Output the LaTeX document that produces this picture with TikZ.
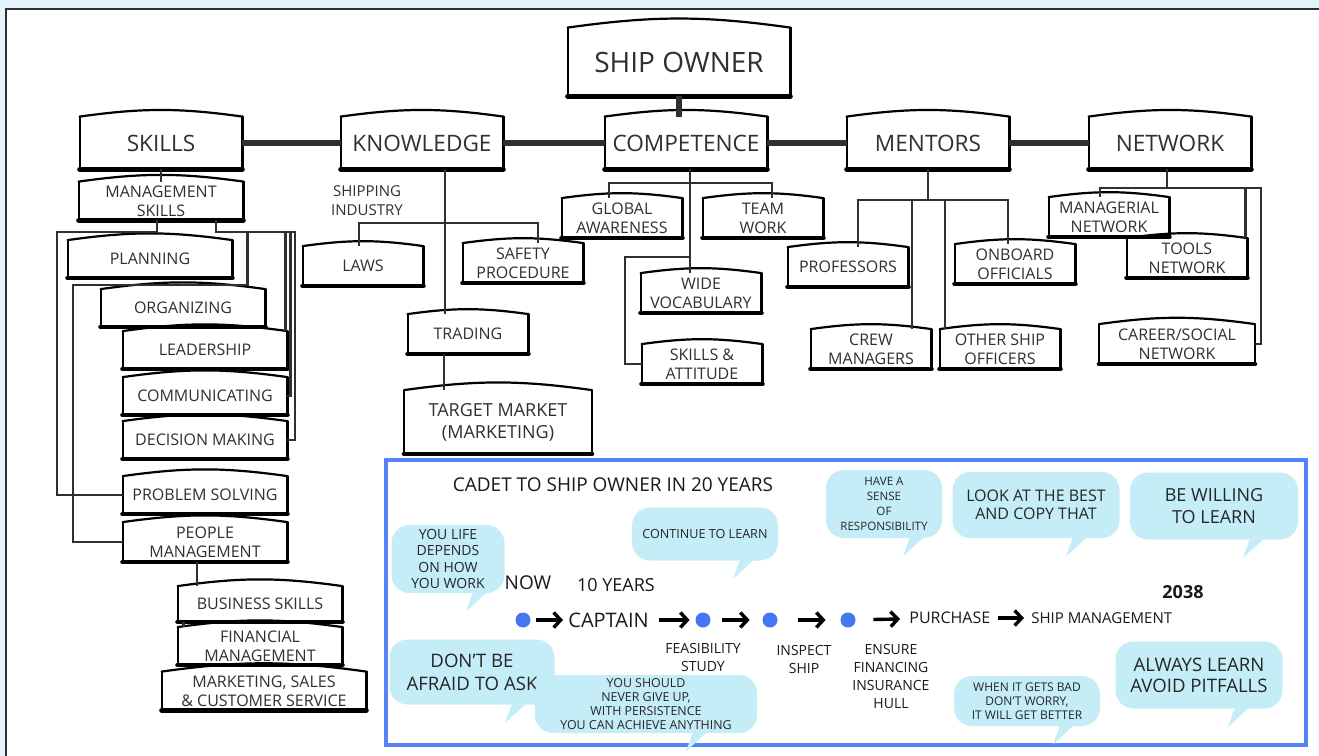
\documentclass[tikz,border=0pt]{standalone}
\usepackage{fontspec}
\setmainfont{Open Sans}
\usetikzlibrary{arrows.meta}

\definecolor{pagetint}{RGB}{228,243,251}
\definecolor{inkgray}{RGB}{48,48,48}
\definecolor{panelblue}{RGB}{86,130,250}
\definecolor{bubblecyan}{RGB}{196,237,247}
\definecolor{dotblue}{RGB}{70,118,242}

\begin{document}
\begin{tikzpicture}[x=0.5pt, y=-0.5pt,
    boxline/.style = {draw=black, line width=1.1pt, line cap=round},
    sketchbox/.style = {rectangle, fill=white, text=inkgray, inner sep=1pt,
                        align=center, font=\fontsize{8}{9.5}\selectfont,
                        minimum width=60pt, minimum height=19.5pt,
                        append after command={\pgfextra{\let\thisbox\tikzlastnode}
                          (\thisbox.south west) edge [boxline] (\thisbox.north west)
                          (\thisbox.north west) edge [boxline, bend left=8] (\thisbox.north east)
                          (\thisbox.north east) edge [boxline] (\thisbox.south east)
                          (\thisbox.south west) edge [boxline, line width=2.4pt] (\thisbox.south east)}},
    headbox/.style = {sketchbox, minimum width=111pt, minimum height=34pt,
                      font=\fontsize{14}{16}\selectfont},
    mainbox/.style = {sketchbox, minimum width=81pt, minimum height=26pt,
                      font=\fontsize{11.3}{13}\selectfont},
    skillbox/.style = {sketchbox, minimum width=82pt, minimum height=18.5pt},
    treeline/.style = {draw=inkgray, line width=1.3pt},
    trunkline/.style = {draw=inkgray, line width=3pt},
    bubble/.style = {rectangle, fill=bubblecyan, rounded corners=9pt, inner sep=1pt,
                     align=center, text=black!85},
    stopdot/.style = {circle, fill=dotblue, minimum size=7.5pt, inner sep=0pt},
    stamp/.style = {inner sep=1pt, align=center, text=black!90},
    stepline/.style = {-{Straight Barb[length=3.5pt, width=7.5pt]}, line width=1.7pt}]

  % Backdrop.
  \useasboundingbox (0, 0) rectangle (1319, 756);
  \fill [pagetint] (0, 0) rectangle (1319, 756);
  \fill [white] (6, 9) rectangle (1319, 756);
  \draw [inkgray, line width=1pt] (6, 756) -- (6, 9) -- (1319, 9);

  % Top of the tree.
  \node at (679, 62) [headbox, name=ShipOwner] {SHIP OWNER};
  \node at (161, 143) [mainbox, name=Skills] {SKILLS};
  \node at (422, 143) [mainbox, name=Knowledge] {KNOWLEDGE};
  \node at (686, 143) [mainbox, name=Competence] {COMPETENCE};
  \node at (928, 143) [mainbox, name=Mentors] {MENTORS};
  \node at (1170, 143) [mainbox, name=Network] {NETWORK};

  % Skills.
  \node at (161, 201) [skillbox, minimum height=19pt, name=ManagementSkills] {MANAGEMENT\\SKILLS};
  \node at (150, 259) [skillbox, name=Planning] {PLANNING};
  \node at (183, 308) [skillbox, name=Organizing] {ORGANIZING};
  \node at (205, 350) [skillbox, name=Leadership] {LEADERSHIP};
  \node at (205, 396) [skillbox, name=Communicating] {COMMUNICATING};
  \node at (205, 440) [skillbox, name=DecisionMaking] {DECISION MAKING};
  \node at (205, 495) [skillbox, name=ProblemSolving] {PROBLEM SOLVING};
  \node at (205, 542) [skillbox, minimum height=19.5pt, name=PeopleManagement] {PEOPLE\\MANAGEMENT};
  \node at (260, 604) [skillbox, minimum height=17.5pt, name=BusinessSkills] {BUSINESS SKILLS};
  \node at (260, 646) [skillbox, name=FinancialManagement] {FINANCIAL\\MANAGEMENT};
  \node at (264, 691) [skillbox, minimum width=102pt, minimum height=19pt, name=Marketing] {MARKETING, SALES\\\& CUSTOMER SERVICE};

  % Knowledge.
  \node at (367, 201) [stamp, text=inkgray, font=\fontsize{7.5}{9.5}\selectfont, name=ShippingIndustry] {SHIPPING\\INDUSTRY};
  \node at (363, 266) [sketchbox, name=Laws] {LAWS};
  \node at (523, 263) [sketchbox, name=SafetyProcedure] {SAFETY\\PROCEDURE};
  \node at (468, 334) [sketchbox, name=Trading] {TRADING};
  \node at (498, 422) [sketchbox, minimum width=93.5pt, minimum height=31.5pt,
                       font=\fontsize{9}{11}\selectfont, name=TargetMarket] {TARGET MARKET\\(MARKETING)};

  % Competence.
  \node at (622, 218) [sketchbox, name=GlobalAwareness] {GLOBAL\\AWARENESS};
  \node at (763, 218) [sketchbox, name=TeamWork] {TEAM\\WORK};
  \node at (701, 293) [sketchbox, name=WideVocabulary] {WIDE\\VOCABULARY};
  \node at (702, 364) [sketchbox, name=SkillsAttitude] {SKILLS \&\\ATTITUDE};

  % Mentors.
  \node at (848, 267) [sketchbox, name=Professors] {PROFESSORS};
  \node at (1015, 264) [sketchbox, name=OnboardOfficials] {ONBOARD\\OFFICIALS};
  \node at (871, 349) [sketchbox, name=CrewManagers] {CREW\\MANAGERS};
  \node at (1000, 349) [sketchbox, name=OtherOfficers] {OTHER SHIP\\OFFICERS};

  % Network.
  \node at (1109, 217) [sketchbox, name=ManagerialNetwork] {MANAGERIAL\\NETWORK};
  \node at (1187, 258) [sketchbox, name=ToolsNetwork] {TOOLS\\NETWORK};
  \node at (1177, 344) [sketchbox, minimum width=77.5pt, name=CareerNetwork] {CAREER/SOCIAL\\NETWORK};

  % Bus points of the branches.
  \coordinate (skillsLeft) at (57, 232);
  \coordinate (skillsRight) at (295, 232);
  \coordinate (organizingBus) at (73, 285);
  \coordinate (knowledgeBus) at (445, 223);
  \coordinate (competenceBus) at (690, 183);
  \coordinate (attitudeBranch) at (690, 257);
  \coordinate (mentorsBus) at (928, 200);
  \coordinate (networkBus) at (1167, 188);

  % Trunk.
  \draw [trunkline] (ShipOwner.south) -- (ShipOwner.south |- Competence.north);
  \draw [trunkline] (Skills.east) -- (Knowledge.west);
  \draw [trunkline] (Knowledge.east) -- (Competence.west);
  \draw [trunkline] (Competence.east) -- (Mentors.west);
  \draw [trunkline] (Mentors.east) -- (Network.west);

  % Skills branches.
  \draw [treeline] (Skills.south) -- (ManagementSkills.north);
  \draw [treeline] ([xshift=-2pt]ManagementSkills.south)
                   |- (skillsLeft) |- (ProblemSolving.west);
  \draw [treeline] ([xshift=27.5pt]ManagementSkills.south)
                   |- (skillsRight) |- (DecisionMaking.east);
  \draw [treeline] ([xshift=-1pt]Leadership.north east |- skillsRight)
                   -- ([xshift=-1pt]Leadership.north east);
  \draw [treeline] ([xshift=1.5pt]Communicating.east |- skillsRight)
                   |- (Communicating.east);
  \draw [treeline] ([xshift=7.5pt]Planning.east |- skillsRight)
                   |- (organizingBus) |- (PeopleManagement.west);
  \draw [treeline] ([xshift=-4pt]PeopleManagement.south)
                   -- ([xshift=-4pt]PeopleManagement.south |- BusinessSkills.north);
  \draw [treeline] ([xshift=3pt]BusinessSkills.south west)
                   -- ([xshift=3pt]BusinessSkills.south west |- FinancialManagement.north);

  % Knowledge branches.
  \draw [treeline] ([xshift=11.5pt]Knowledge.south) -- ([xshift=-11.5pt]Trading.north);
  \draw [treeline] ([xshift=-2pt]Laws.north)
                   |- (knowledgeBus) -| ([xshift=7.5pt]SafetyProcedure.north);
  \draw [treeline] ([xshift=-12pt]Trading.south) -- ([xshift=-27pt]TargetMarket.north);

  % Competence branches.
  \draw [treeline] ([xshift=2pt]Competence.south) -- ([xshift=-5.5pt]WideVocabulary.north);
  \draw [treeline] ([xshift=-6.5pt]GlobalAwareness.north)
                   |- (competenceBus) -| ([xshift=4.5pt]TeamWork.north);
  \draw [treeline] (attitudeBranch) -- ++(-65, 0) |- (SkillsAttitude.west);

  % Mentors branches.
  \draw [treeline] (Mentors.south) -- (mentorsBus);
  \draw [treeline] ([xshift=5pt]Professors.north)
                   |- (mentorsBus) -| ([xshift=-3.5pt]OnboardOfficials.north);
  \draw [treeline] ([xshift=20.5pt]CrewManagers.north)
                   -- ([xshift=20.5pt]CrewManagers.north |- mentorsBus);
  \draw [treeline] ([xshift=-27.5pt]OtherOfficers.north)
                   -- ([xshift=-27.5pt]OtherOfficers.north |- mentorsBus);

  % Network branches.
  \draw [treeline] ([xshift=-1.5pt]Network.south) -- (networkBus);
  \draw [treeline] ([xshift=-4.5pt]ManagerialNetwork.north)
                   |- (networkBus) -- ++(94, 0) |- (CareerNetwork.east);
  \draw [treeline] ([xshift=-1pt]ToolsNetwork.north east)
                   -- ([xshift=-1pt]ToolsNetwork.north east |- networkBus);

  % Road map panel.
  \draw [panelblue, line width=1.6pt] (386, 460) rectangle (1306, 745);
  \node at (613, 485) [stamp, font=\fontsize{9.5}{11}\selectfont, name=RoadTitle] {CADET TO SHIP OWNER IN 20 YEARS};

  % Speech bubbles.
  \node at (448, 559) [bubble, minimum width=56.5pt, minimum height=34pt,
                       font=\fontsize{7}{8.3}\selectfont, name=LifeBubble] {YOU LIFE\\DEPENDS\\ON HOW\\YOU WORK};
  \node at (705, 534) [bubble, minimum width=73pt, minimum height=26.5pt,
                       font=\fontsize{6.3}{8}\selectfont, name=ContinueBubble] {CONTINUE TO LEARN};
  \node at (884, 504) [bubble, minimum width=58pt, minimum height=34pt,
                       font=\fontsize{5.8}{7.5}\selectfont, name=SenseBubble] {HAVE A\\SENSE\\OF\\RESPONSIBILITY};
  \node at (1036, 505) [bubble, minimum width=83.5pt, minimum height=33pt,
                        font=\fontsize{8}{9}\selectfont, name=LookBubble] {LOOK AT THE BEST\\AND COPY THAT};
  \node at (1214, 506) [bubble, minimum width=84pt, minimum height=33.5pt,
                        font=\fontsize{9}{11}\selectfont, name=WillingBubble] {BE WILLING\\TO LEARN};
  \node at (472, 672) [bubble, minimum width=82.5pt, minimum height=32.5pt,
                       font=\fontsize{9.3}{11.5}\selectfont, name=AfraidBubble] {DON’T BE\\AFRAID TO ASK};
  \node at (646, 704) [bubble, minimum width=111pt, minimum height=29pt,
                       font=\fontsize{6.2}{7}\selectfont, name=PersistBubble] {YOU SHOULD\\NEVER GIVE UP,\\WITH PERSISTENCE\\YOU CAN ACHIEVE ANYTHING};
  \node at (1027, 701) [bubble, minimum width=73pt, minimum height=25pt,
                        font=\fontsize{6}{7}\selectfont, name=BadBubble] {WHEN IT GETS BAD\\DON’T WORRY,\\IT WILL GET BETTER};
  \node at (1199, 675) [bubble, minimum width=83.5pt, minimum height=33.5pt,
                        font=\fontsize{9.3}{10.5}\selectfont, name=AlwaysBubble] {ALWAYS LEARN\\AVOID PITFALLS};
  \foreach \bub/\dx in {LifeBubble/25, ContinueBubble/35, SenseBubble/26, LookBubble/37,
                        WillingBubble/36, AfraidBubble/40, PersistBubble/47, BadBubble/33,
                        AlwaysBubble/36}
    \fill [bubblecyan] ([xshift=\dx*0.5pt, yshift=0.6pt]\bub.south)
                       -- ([xshift=\dx*0.5pt-3.5pt, yshift=-9pt]\bub.south)
                       -- ([xshift=\dx*0.5pt+7pt, yshift=0.6pt]\bub.south) -- cycle;

  % Time line.
  \node at (528, 583) [stamp, font=\fontsize{9.5}{11}\selectfont, name=NowLabel] {NOW};
  \node at (616, 585) [stamp, font=\fontsize{9}{11}\selectfont, name=TenYears] {10 YEARS};
  \node at (1183, 592) [stamp, font=\fontsize{9}{11}\selectfont\bfseries, name=YearLabel] {2038};
  \node at (523, 620) [stopdot, name=NowDot] {};
  \node at (566, 620) [stamp, anchor=west, font=\fontsize{10}{12}\selectfont, name=Captain] {CAPTAIN};
  \node at (703, 620) [stopdot, name=FeasibilityDot] {};
  \node at (770, 620) [stopdot, name=InspectDot] {};
  \node at (848, 620) [stopdot, name=FinanceDot] {};
  \node at (907, 618) [stamp, anchor=west, font=\fontsize{8}{10}\selectfont, name=Purchase] {PURCHASE};
  \node at (1029, 618) [stamp, anchor=west, font=\fontsize{7.5}{9}\selectfont, name=ShipManagement] {SHIP MANAGEMENT};
  \node at (703, 657) [stamp, font=\fontsize{7}{9}\selectfont, name=FeasibilityLabel] {FEASIBILITY\\STUDY};
  \node at (804, 659) [stamp, font=\fontsize{7}{9}\selectfont, name=InspectLabel] {INSPECT\\SHIP};
  \node at (891, 676) [stamp, font=\fontsize{7}{9}\selectfont, name=FinanceLabel] {ENSURE\\FINANCING\\INSURANCE\\HULL};

  \draw [stepline, shorten <=2.75pt, shorten >=1.5pt] (NowDot) -- (Captain);
  \draw [stepline, shorten <=4pt, shorten >=2.75pt] (Captain) -- (FeasibilityDot);
  \draw [stepline, shorten <=5.75pt, shorten >=6.25pt] (FeasibilityDot) -- (InspectDot);
  \draw [stepline, shorten <=10.25pt, shorten >=7.25pt] (InspectDot) -- (FinanceDot);
  \draw [stepline, shorten <=8.75pt, shorten >=3.5pt] (FinanceDot) -- (Purchase);
  \draw [stepline, shorten <=2.5pt, shorten >=2.5pt] (Purchase) -- (ShipManagement);
\end{tikzpicture}
\end{document}
